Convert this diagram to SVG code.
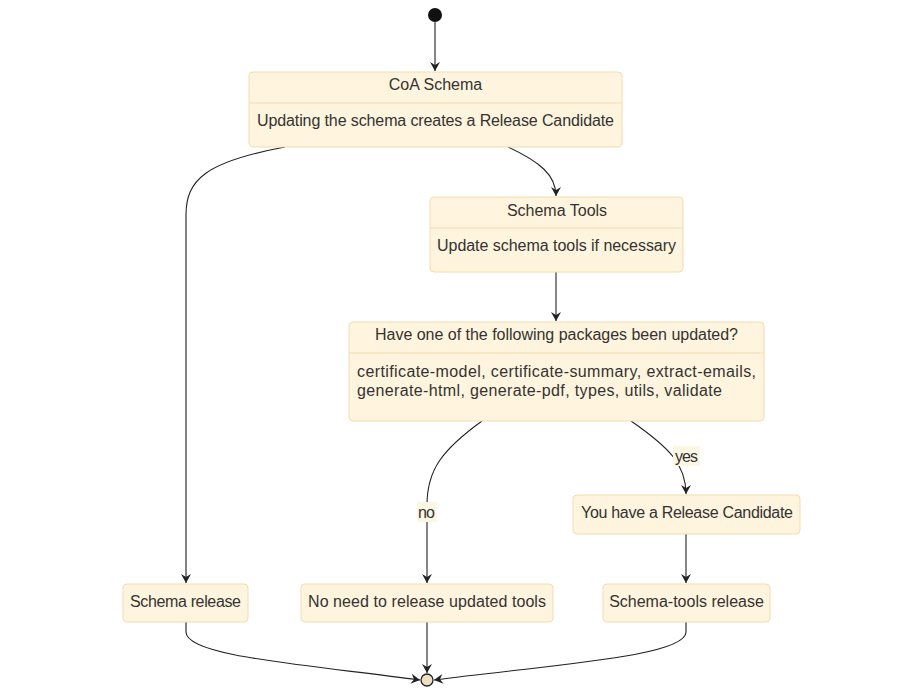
<svg xmlns="http://www.w3.org/2000/svg" width="923" height="695" viewBox="0 0 923 695">
<defs>
<style>
.node rect{fill:#fff4dd;stroke:#f2dcae;stroke-width:1}
.div{stroke:#f2dcae;stroke-width:1}
text{font-family:"Liberation Sans",Arial,sans-serif;font-size:16px;fill:#333}
.edge{fill:none;stroke:#222;stroke-width:1.1}
.lbl{fill:#fdf6e3;stroke:none}
</style>
<marker id="arr" viewBox="0 0 12 12" refX="10" refY="6" markerWidth="12" markerHeight="12" markerUnits="userSpaceOnUse" orient="auto">
<path d="M1,1 L10,6 L1,11 L4,6 z" fill="#222"/>
</marker>
</defs>
<rect width="923" height="695" fill="#fff"/>
<g id="connectors">
<path class="edge" d="M435,22 L435,71" marker-end="url(#arr)"/>
<path class="edge" d="M508,147 C540,162 556,175 556,196" marker-end="url(#arr)"/>
<path class="edge" d="M285,147 C205,162 186,180 186,215 L186,583" marker-end="url(#arr)"/>
<path class="edge" d="M556,272 L556,321" marker-end="url(#arr)"/>
<path class="edge" d="M482,421 C442,450 427,470 427,505 L427,583" marker-end="url(#arr)"/>
<path class="edge" d="M631,421 C670,448 686,465 686,494" marker-end="url(#arr)"/>
<path class="edge" d="M686,534 L686,583" marker-end="url(#arr)"/>
<path class="edge" d="M186,622 L186,632 C186,656 300,664 420,680" marker-end="url(#arr)"/>
<path class="edge" d="M427,622 L427,673" marker-end="url(#arr)"/>
<path class="edge" d="M686,622 L686,632 C686,656 560,664 434,680" marker-end="url(#arr)"/>
<rect class="lbl" x="673" y="446" width="27" height="20"/>
<text x="675" y="462" textLength="23">yes</text>
<rect class="lbl" x="417" y="502" width="20" height="20"/>
<text x="418" y="518" textLength="17">no</text>
</g>
<g id="start"><circle cx="435" cy="15" r="7" fill="#111"/></g>
<g id="coa" class="node">
<rect x="249" y="72" width="373" height="75" rx="4"/>
<line class="div" x1="249" y1="103" x2="622" y2="103"/>
<text x="435.5" y="90" text-anchor="middle">CoA Schema</text>
<text x="257" y="126" textLength="357">Updating the schema creates a Release Candidate</text>
</g>
<g id="tools" class="node">
<rect x="430" y="197" width="253" height="75" rx="4"/>
<line class="div" x1="430" y1="228" x2="683" y2="228"/>
<text x="557" y="216" text-anchor="middle">Schema Tools</text>
<text x="437" y="251" textLength="239">Update schema tools if necessary</text>
</g>
<g id="packages" class="node">
<rect x="349" y="322" width="415" height="99" rx="4"/>
<line class="div" x1="349" y1="353" x2="764" y2="353"/>
<text x="375" y="340" textLength="363">Have one of the following packages been updated?</text>
<text x="357" y="377" textLength="399">certificate-model, certificate-summary, extract-emails,</text>
<text x="357" y="396" textLength="365">generate-html, generate-pdf, types, utils, validate</text>
</g>
<g id="rc" class="node">
<rect x="573" y="495" width="227" height="39" rx="4"/>
<text x="581" y="518" textLength="212">You have a Release Candidate</text>
</g>
<g id="schemarelease" class="node">
<rect x="123" y="584" width="125" height="38" rx="4"/>
<text x="130" y="607" textLength="111">Schema release</text>
</g>
<g id="noneed" class="node">
<rect x="301" y="584" width="252" height="38" rx="4"/>
<text x="308" y="607" textLength="238">No need to release updated tools</text>
</g>
<g id="toolsrelease" class="node">
<rect x="603" y="584" width="167" height="38" rx="4"/>
<text x="686.5" y="607" text-anchor="middle">Schema-tools release</text>
</g>
<g id="end"><circle cx="427" cy="680" r="6" fill="#eedfc2" stroke="#222" stroke-width="1.3"/></g>
</svg>
